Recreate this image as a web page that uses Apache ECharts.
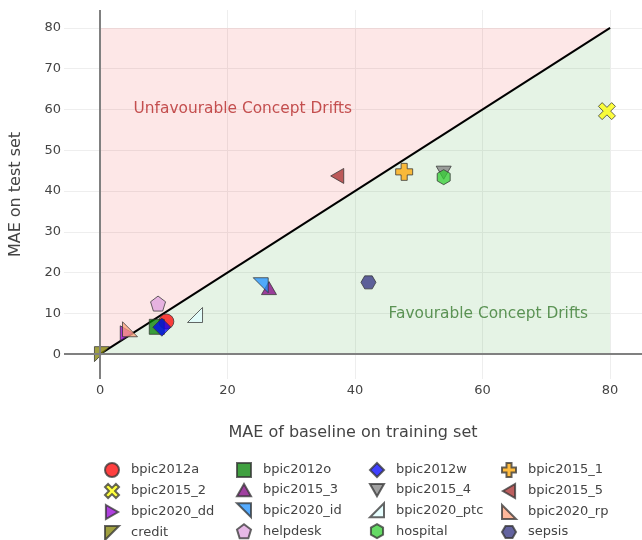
<!DOCTYPE html>
<html>
<head>
<meta charset="utf-8">
<script src="https://cdn.jsdelivr.net/npm/echarts@6/dist/echarts.min.js"></script>
<style>
  html, body { margin: 0; padding: 0; background: #fff; }
  #chart { width: 642px; height: 540px; }
</style>
</head>
<body>
<div id="chart"></div>
<script>
var chartDom = document.getElementById('chart');
var myChart = echarts.init(chartDom);

// datasets, in legend order (row by row)
var names = ['bpic2012a', 'bpic2012o', 'bpic2012w', 'bpic2015_1',
             'bpic2015_2', 'bpic2015_3', 'bpic2015_4', 'bpic2015_5',
             'bpic2020_dd', 'bpic2020_id', 'bpic2020_ptc', 'bpic2020_rp',
             'credit', 'helpdesk', 'hospital', 'sepsis'];
// MAE of baseline on training set
var trainMae = [10.4, 8.9, 9.7, 47.7,
                79.5, 26.5, 53.9, 37.2,
                4.2, 25.2, 14.9, 4.7,
                0.3, 9.1, 53.9, 42.1];
// MAE on test set
var testMae = [8.0, 6.7, 6.6, 44.7,
               59.6, 16.2, 44.5, 43.7,
               5.1, 16.9, 9.6, 6.1,
               0.0, 12.4, 43.4, 17.6];
var colors = ['#ff0000', '#008000', '#0000ff', '#ffa500',
              '#ffff00', '#800080', '#808080', '#a52a2a',
              '#9400d3', '#1e90ff', '#e0ffff', '#ffa07a',
              '#808000', '#dda0dd', '#32cd32', '#2f2f7f'];
var shapes = {
  circle: 'circle',
  square: 'rect',
  diamond: 'diamond',
  cross: 'path://M3.2,0H6.8V3.2H10V6.8H6.8V10H3.2V6.8H0V3.2H3.2Z',
  x: 'path://M2.2,0L5,2.8L7.8,0L10,2.2L7.2,5L10,7.8L7.8,10L5,7.2L2.2,10L0,7.8L2.8,5L0,2.2Z',
  up: 'path://M5,0L10,8.7L0,8.7Z',
  down: 'path://M0,0L10,0L5,8.7Z',
  left: 'path://M0,5L8.7,0L8.7,10Z',
  right: 'path://M0,0L8.7,5L0,10Z',
  nw: 'path://M0,0L10,0L0,10Z',
  ne: 'path://M0,0L10,0L10,10Z',
  se: 'path://M10,0L10,10L0,10Z',
  sw: 'path://M0,0L10,10L0,10Z',
  pentagon: 'path://M5,0L10,3.8L8.1,10L1.9,10L0,3.8Z',
  hexagon: 'path://M5,0L9.33,2.5L9.33,7.5L5,10L0.67,7.5L0.67,2.5Z',
  hexagon2: 'path://M2.5,0.67L7.5,0.67L10,5L7.5,9.33L2.5,9.33L0,5Z'
};
var markers = ['circle', 'square', 'diamond', 'cross',
               'x', 'up', 'down', 'left',
               'right', 'ne', 'se', 'sw',
               'nw', 'pentagon', 'hexagon', 'hexagon2'];
var sizes = { x: 17, cross: 17, diamond: 18 };

// reference line and shaded regions
var diagonal = [[0, 0], [80, 80]];
var unfavourableArea = [[0, 0], [0, 80], [80, 80]];
var favourableArea = [[0, 0], [80, 0], [80, 80]];
var xTicks = [0, 20, 40, 60, 80];
var yTicks = [0, 10, 20, 30, 40, 50, 60, 70, 80];
var noteTexts = ['Unfavourable Concept Drifts', 'Favourable Concept Drifts'];
var notePos = [[22.4, 60.1], [60.9, 9.8]];
var noteColors = ['#b52828', '#387a2f'];

var FONT = 'DejaVu Sans';

var series = [];
// shaded regions
series.push({
  type: 'custom',
  silent: true,
  z: 1,
  data: [0, 1],
  renderItem: function (params, api) {
    var i = api.value(0);
    var poly = i === 0 ? unfavourableArea : favourableArea;
    var pts = poly.map(function (p) { return api.coord(p); });
    return {
      type: 'polygon',
      shape: { points: pts },
      style: { fill: i === 0 ? 'rgba(240,40,40,0.11)' : 'rgba(40,160,40,0.12)' }
    };
  },
  encode: { x: 0, y: 0 }
});
// zero lines + diagonal
series.push({
  type: 'line',
  silent: true,
  z: 2,
  data: diagonal,
  symbol: 'none',
  lineStyle: { color: '#000', width: 2 },
  markLine: {
    silent: true,
    symbol: 'none',
    label: { show: false },
    lineStyle: { color: '#808080', width: 2, type: 'solid' },
    data: [{ xAxis: 0 }, { yAxis: 0 }]
  }
});
// annotations
series.push({
  type: 'scatter',
  silent: true,
  z: 3,
  symbolSize: 0,
  data: noteTexts.map(function (t, i) {
    return {
      name: t,
      value: notePos[i],
      label: { color: noteColors[i] }
    };
  }),
  label: {
    show: true,
    position: 'inside',
    formatter: '{b}',
    fontFamily: FONT,
    fontSize: 15.4
  }
});
names.forEach(function (n, i) {
  var m = markers[i];
  series.push({
    name: n,
    type: 'scatter',
    z: 4,
    data: [[trainMae[i], testMae[i]]],
    symbol: shapes[m],
    symbolKeepAspect: true,
    symbolSize: sizes[m] || 15,
    itemStyle: {
      color: colors[i],
      opacity: 0.75,
      borderColor: '#333',
      borderWidth: 1
    }
  });
});

var legendLefts = [104, 236, 369, 501];
var legends = legendLefts.map(function (left, c) {
  return {
    orient: 'vertical',
    left: left,
    top: 462,
    height: 120,
    padding: 0,
    itemWidth: 14,
    itemHeight: 14,
    itemGap: 5,
    selectedMode: false,
    data: [names[c], names[c + 4], names[c + 8], names[c + 12]],
    textStyle: { fontFamily: FONT, fontSize: 13, lineHeight: 14, color: '#444', padding: [0, 0, 0, 7] }
  };
});

option = {
  animation: false,
  backgroundColor: '#fff',
  textStyle: { fontFamily: FONT },
  grid: { left: 64, right: 0, top: 10, bottom: 161, containLabel: false },
  legend: legends,
  xAxis: {
    type: 'value',
    min: -5.65,
    max: 85,
    name: 'MAE of baseline on training set',
    nameLocation: 'middle',
    nameGap: 46,
    nameTextStyle: { fontFamily: FONT, fontSize: 16, color: '#444' },
    axisLine: { show: false },
    axisTick: { show: false, customValues: xTicks },
    axisLabel: { customValues: xTicks, fontFamily: FONT, fontSize: 13, color: '#444', margin: 5 },
    splitLine: { show: true, lineStyle: { color: '#eee', width: 1 } }
  },
  yAxis: {
    type: 'value',
    min: -6.1,
    max: 84.4,
    name: 'MAE on test set',
    nameLocation: 'middle',
    nameGap: 40,
    nameTextStyle: { fontFamily: FONT, fontSize: 16, color: '#444' },
    axisLine: { show: false },
    axisTick: { show: false, customValues: yTicks },
    axisLabel: { customValues: yTicks, fontFamily: FONT, fontSize: 13, color: '#444', margin: 3 },
    splitLine: { show: true, lineStyle: { color: '#eee', width: 1 } }
  },
  series: series
};

myChart.setOption(option);
</script>
</body>
</html>
